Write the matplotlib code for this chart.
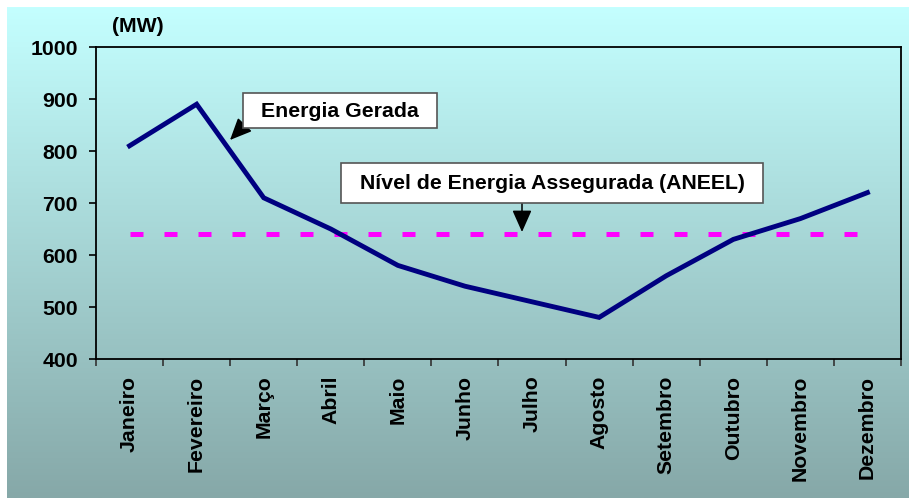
import numpy as np
import matplotlib.pyplot as plt
from matplotlib.colors import LinearSegmentedColormap
from matplotlib.patches import Rectangle

# data
months = ['Janeiro', 'Fevereiro', 'Março', 'Abril', 'Maio', 'Junho', 'Julho',
          'Agosto', 'Setembro', 'Outubro', 'Novembro', 'Dezembro']
energia_gerada = [810, 890, 710, 650, 580, 540, 510, 480, 560, 630, 670, 720]
energia_assegurada = [640] * 12

W, H = 910, 499
plt.rcParams['font.family'] = ['Liberation Sans', 'DejaVu Sans']
plt.rcParams['font.weight'] = 'bold'
plt.rcParams['font.size'] = 15.3


def px(x, y):
    """pixel position (from top-left) -> figure fraction"""
    return x / W, 1 - y / H


fig = plt.figure(figsize=(W / 100, H / 100), dpi=100)
fig.patch.set_facecolor('white')

# gradient background
bg = fig.add_axes([7 / W, 1 - 498 / H, 902 / W, 491 / H], zorder=-1)
cmap = LinearSegmentedColormap.from_list('bg', ['#C4FFFF', '#86A8A8'])
bg.imshow(np.linspace(0, 1, 256).reshape(-1, 1), aspect='auto', cmap=cmap,
          extent=[0, 1, 0, 1])
bg.set_axis_off()

ax = fig.add_axes([96 / W, 1 - 359 / H, 805 / W, 312 / H])
ax.set_facecolor('none')
x = np.arange(len(months))

ax.plot(x, energia_assegurada, color='#FF00FF', lw=3.6, dashes=(2.6, 4.2))
ax.plot(x, energia_gerada, color='#000080', lw=3.5, solid_joinstyle='miter')

ax.set_xlim(-0.5, len(months) - 0.5)
ax.set_ylim(400, 1000)
ax.set_yticks(range(400, 1001, 100))
ax.set_xticks(x)
ax.set_xticklabels(months, rotation=90, va='top')
ax.set_xticks(np.arange(-0.5, len(months)), minor=True)
ax.tick_params(axis='x', which='major', length=0, pad=12)
ax.tick_params(axis='x', which='minor', length=5, width=1.2, color='#333333')
ax.tick_params(axis='y', length=5, width=1.2, pad=8)
for s in ax.spines.values():
    s.set_linewidth(1.3)

fig.text(*px(138, 26), '(MW)', ha='center', va='center')

# annotation boxes
for (x0, y0, x1, y1), label in [((243, 93, 437, 128), 'Energia Gerada'),
                                ((341, 163, 763, 203), 'Nível de Energia Assegurada (ANEEL)')]:
    fx0, fy1 = px(x0, y1)
    fx1, fy0 = px(x1, y0)
    fig.patches.append(Rectangle((fx0, fy1), fx1 - fx0, fy0 - fy1,
                                 transform=fig.transFigure, facecolor='white',
                                 edgecolor='#555555', lw=1.2, zorder=3))
    fig.text(*px((x0 + x1) / 2, (y0 + y1) / 2 + 1), label, ha='center',
             va='center', zorder=4)

arrow = dict(arrowstyle='-|>,head_length=0.9,head_width=0.4', color='black',
             lw=1.1, mutation_scale=15, shrinkA=0, shrinkB=0)
ax.annotate('', xy=px(230, 140), xytext=px(260, 109), xycoords='figure fraction',
            textcoords='figure fraction', arrowprops=arrow, zorder=5)
ax.annotate('', xy=px(522, 232), xytext=px(522, 203), xycoords='figure fraction',
            textcoords='figure fraction', arrowprops=arrow, zorder=5)

fig.savefig('out.png', dpi=100)
